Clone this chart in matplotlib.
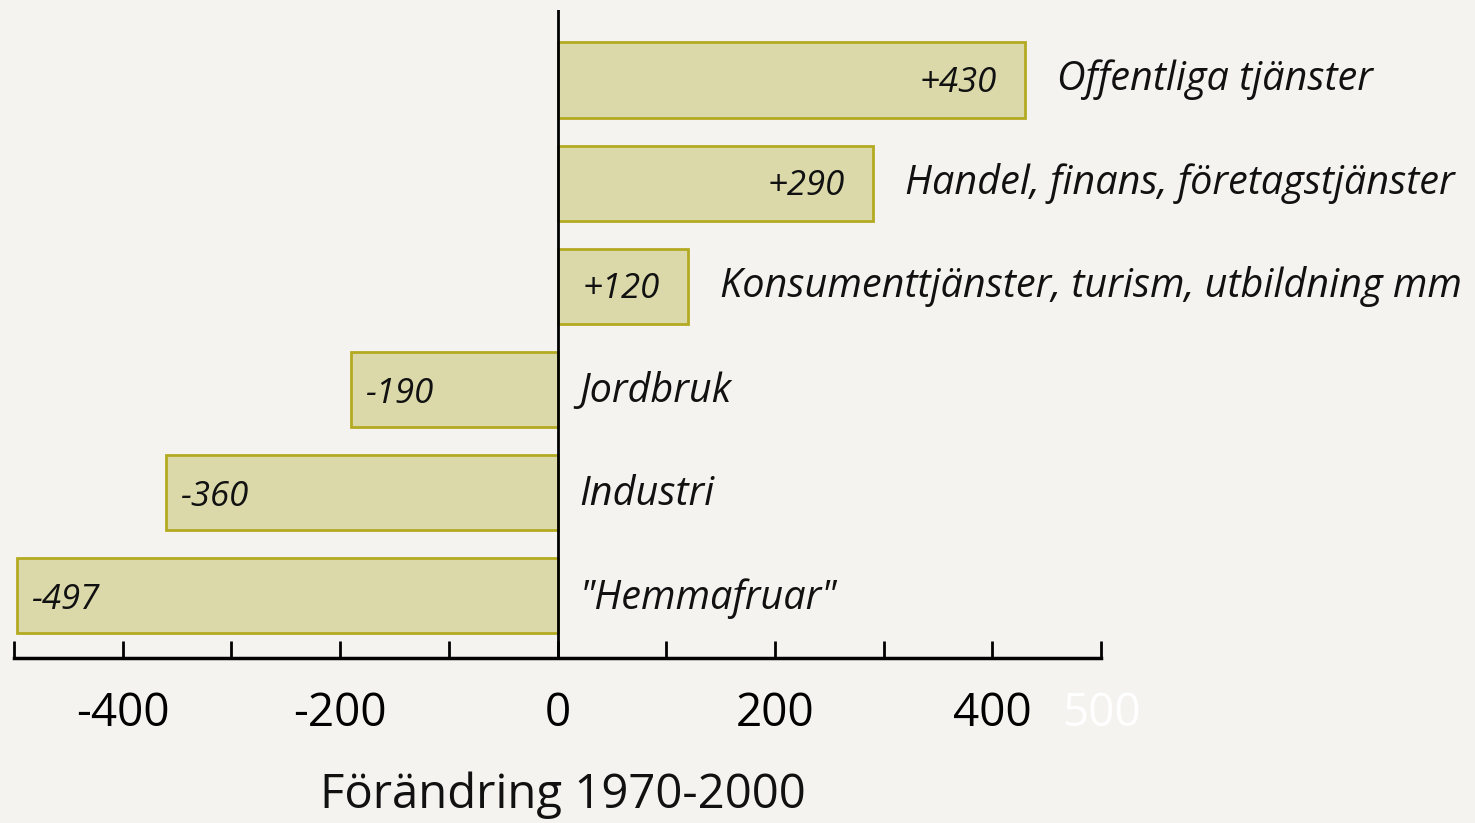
import matplotlib
matplotlib.use("Agg")
import matplotlib.pyplot as plt
from matplotlib.ticker import MultipleLocator

categories = ["Offentliga tjänster", "Handel, finans, företagstjänster",
              "Konsumenttjänster, turism, utbildning mm", "Jordbruk", "Industri",
              "\"Hemmafruar\""]
values = [430, 290, 120, -190, -360, -497]
value_labels = ["+430", "+290", "+120", "-190", "-360", "-497"]
tick_values = [-400, -200, 0, 200, 400, 500]
tick_labels = ["-400", "-200", "0", "200", "400", "500"]
xlabel = "Förändring 1970-2000"

bg = "#f4f3ef"
fill = "#dbd9aa"
edge = "#b4aa22"
font = "Open Sans"

fig = plt.figure(figsize=(14.75, 8.23), dpi=100, facecolor=bg)
ax = fig.add_axes([14/1475, 1-658/823, (1101-14)/1475, 648/823])
ax.set_facecolor(bg)

n = len(categories)
ypos = [n - 1 - i for i in range(n)]
ax.barh(ypos, values, height=0.73, color=fill, edgecolor=edge, linewidth=2, zorder=2)

ax.set_xlim(-500, 500)
ax.set_ylim(-0.606, 5.68)
ax.axvline(0, color="black", lw=2, zorder=3)

for y, v, lab, cat in zip(ypos, values, value_labels, categories):
    if v > 0:
        ax.annotate(lab, (v, y), xytext=(-20, -2), textcoords="offset points",
                    ha="right", va="center", fontsize=25, style="italic",
                    family=font, color="#111111", zorder=4)
        ax.annotate(cat, (v, y), xytext=(23, 0), textcoords="offset points",
                    ha="left", va="center", fontsize=28.5, style="italic",
                    family=font, color="#111111", zorder=4)
    else:
        ax.annotate(lab, (v, y), xytext=(10, -3), textcoords="offset points",
                    ha="left", va="center", fontsize=25, style="italic",
                    family=font, color="#111111", zorder=4)
        ax.annotate(cat, (0, y), xytext=(16, -2), textcoords="offset points",
                    ha="left", va="center", fontsize=28.5, style="italic",
                    family=font, color="#111111", zorder=4)

for s in ["top", "right", "left"]:
    ax.spines[s].set_visible(False)
ax.spines["bottom"].set_linewidth(2.5)
ax.set_yticks([])

ax.set_xticks(tick_values)
ax.set_xticklabels(tick_labels, family=font, fontsize=33)
ax.xaxis.set_minor_locator(MultipleLocator(100))
ax.tick_params(axis="x", which="both", direction="in", length=12, width=2, pad=24)
for t, lab in zip(ax.get_xticklabels(), tick_labels):
    if lab == "500":
        t.set_color("white")

fig.text(563/1475, 1-795/823, xlabel, family=font, fontsize=34,
         ha="center", va="center", color="#111111")

fig.savefig("out.png", dpi=100, facecolor=bg)
